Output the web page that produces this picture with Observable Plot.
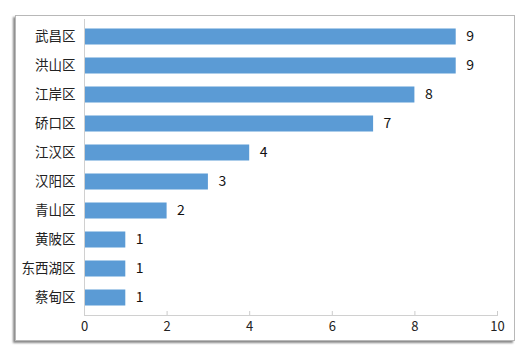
<!DOCTYPE html>
<html>
<head>
<meta charset="utf-8">
<script src="https://cdn.jsdelivr.net/npm/d3@7"></script>
<script src="https://cdn.jsdelivr.net/npm/@observablehq/plot@0.6"></script>
<style>
  html, body { margin: 0; padding: 0; background: #fff; }
  #wrap { position: relative; width: 531px; height: 357px; overflow: hidden; }
  #box { position: absolute; left: 15px; top: 15px; width: 498px; height: 324px;
         border: 1px solid #b8b8b8; box-shadow: -2px 2px 2px #8a8a8a; background: #fff; }
  #chart { position: absolute; left: 0; top: 0; }
</style>
</head>
<body>
<div id="wrap"><div id="box"></div><div id="chart"></div></div>
<script>
const districts = ["武昌区", "洪山区", "江岸区", "硚口区", "江汉区", "汉阳区", "青山区", "黄陂区", "东西湖区", "蔡甸区"];
const counts = [9, 9, 8, 7, 4, 3, 2, 1, 1, 1];
const xTicks = [0, 2, 4, 6, 8, 10];

const data = districts.map((d, i) => ({district: d, count: counts[i]}));
const font = "'Microsoft YaHei', 'Noto Sans CJK SC', sans-serif";

const chart = Plot.plot({
  width: 531,
  height: 357,
  marginLeft: 84,
  marginRight: 34,
  marginTop: 19,
  marginBottom: 42,
  style: {fontFamily: font, fontSize: "13px", color: "#222", background: "transparent"},
  x: {domain: [0, 10], ticks: xTicks, label: null},
  y: {domain: districts, padding: 0, label: null},
  marks: [
    Plot.barX(data, {y: "district", x: "count", fill: "#5b9bd5", insetTop: 6.5, insetBottom: 6.5}),
    Plot.text(data, {y: "district", x: "count", text: d => String(d.count), textAnchor: "start", dx: 10, fill: "#111", fontSize: 14}),
    Plot.axisY({tickSize: 0, tickPadding: 9, fontSize: 13.5, fill: "#222"}),
    Plot.axisX({ticks: xTicks, tickSize: -4, tickPadding: 10, stroke: "#ccc", fontSize: 13, fill: "#222"}),
    Plot.ruleX([0], {stroke: "#d0d0d0"}),
    Plot.frame({anchor: "bottom", stroke: "#d0d0d0"})
  ]
});
document.getElementById("chart").appendChild(chart);
</script>
</body>
</html>
